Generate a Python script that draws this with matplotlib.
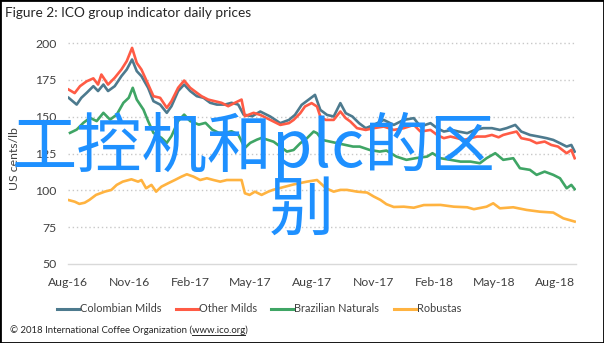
import matplotlib
matplotlib.use("Agg")
import matplotlib.pyplot as plt
import matplotlib.dates as mdates
import pandas as pd
from matplotlib.lines import Line2D
from matplotlib.patches import Rectangle

# ICO group indicator prices, US cents/lb
colombian_dates = [
    "2016-08-02", "2016-08-14", "2016-08-21", "2016-08-29", "2016-09-08", "2016-09-15",
    "2016-09-23", "2016-09-30", "2016-10-10", "2016-10-20", "2016-10-28", "2016-11-05",
    "2016-11-12", "2016-11-19", "2016-11-29", "2016-12-07", "2016-12-17", "2016-12-27",
    "2017-01-03", "2017-01-13", "2017-01-22", "2017-01-31", "2017-02-10", "2017-02-20",
    "2017-03-02", "2017-03-12", "2017-03-24", "2017-04-03", "2017-04-13", "2017-04-21",
    "2017-05-04", "2017-05-16", "2017-05-31", "2017-06-15", "2017-06-28", "2017-07-07",
    "2017-07-17", "2017-07-27", "2017-08-06", "2017-08-14", "2017-08-24", "2017-09-03",
    "2017-09-13", "2017-09-21", "2017-10-01", "2017-10-11", "2017-10-21", "2017-11-02",
    "2017-11-17", "2017-12-02", "2017-12-17", "2018-01-01", "2018-01-11", "2018-01-26",
    "2018-02-05", "2018-02-15", "2018-02-27", "2018-03-09", "2018-03-22", "2018-04-03",
    "2018-04-15", "2018-04-28", "2018-05-10", "2018-05-20", "2018-06-02", "2018-06-11",
    "2018-06-24", "2018-07-07", "2018-07-19", "2018-07-29", "2018-08-08", "2018-08-18",
    "2018-08-25", "2018-08-30",
]
colombian_prices = [
    162.8, 158.2, 162.8, 166.2, 170.7, 167.4,
    171.8, 167.4, 170.7, 177.5, 182.0, 188.8,
    180.9, 177.5, 169.6, 160.5, 158.2, 152.6,
    157.1, 167.4, 171.8, 167.4, 163.9, 162.8,
    159.4, 158.2, 158.2, 159.4, 158.2, 151.4,
    150.3, 153.5, 150.1, 145.6, 147.8, 151.2,
    158.0, 161.4, 164.8, 154.6, 151.2, 150.1,
    159.2, 152.4, 150.1, 145.6, 142.2, 144.4,
    147.8, 144.4, 147.8, 149.0, 143.3, 145.6,
    142.2, 139.9, 141.0, 139.9, 138.8, 141.0,
    142.2, 142.2, 141.0, 142.2, 144.4, 139.9,
    137.6, 136.5, 135.4, 134.2, 132.0, 129.7,
    130.8, 126.3,
]

other_dates = [
    "2016-08-02", "2016-08-11", "2016-08-19", "2016-08-29", "2016-09-08", "2016-09-15",
    "2016-09-20", "2016-09-30", "2016-10-10", "2016-10-20", "2016-10-28", "2016-11-05",
    "2016-11-12", "2016-11-19", "2016-11-27", "2016-12-07", "2016-12-17", "2016-12-27",
    "2017-01-03", "2017-01-13", "2017-01-22", "2017-01-31", "2017-02-10", "2017-02-17",
    "2017-02-27", "2017-03-09", "2017-03-19", "2017-03-29", "2017-04-08", "2017-04-18",
    "2017-04-23", "2017-05-06", "2017-05-16", "2017-05-31", "2017-06-15", "2017-06-28",
    "2017-07-05", "2017-07-15", "2017-07-22", "2017-08-01", "2017-08-09", "2017-08-14",
    "2017-08-22", "2017-09-03", "2017-09-13", "2017-09-21", "2017-09-28", "2017-10-08",
    "2017-10-21", "2017-11-02", "2017-11-17", "2017-12-02", "2017-12-17", "2018-01-01",
    "2018-01-11", "2018-01-26", "2018-02-05", "2018-02-15", "2018-02-25", "2018-03-07",
    "2018-03-17", "2018-03-27", "2018-04-06", "2018-04-18", "2018-04-28", "2018-05-08",
    "2018-05-15", "2018-05-25", "2018-06-04", "2018-06-11", "2018-06-24", "2018-07-04",
    "2018-07-16", "2018-07-26", "2018-08-05", "2018-08-18", "2018-08-25", "2018-08-30",
]
other_prices = [
    168.4, 166.0, 170.7, 174.0, 176.0, 171.8,
    178.6, 171.8, 176.4, 182.0, 187.7, 196.7,
    186.5, 182.0, 174.0, 163.9, 162.8, 156.0,
    160.5, 169.6, 174.5, 169.6, 166.2, 163.9,
    161.6, 160.5, 159.4, 157.1, 159.4, 161.6,
    150.3, 152.6, 151.2, 147.8, 144.4, 145.6,
    147.8, 152.4, 156.9, 159.2, 156.9, 150.1,
    147.8, 147.8, 153.5, 149.0, 146.7, 142.2,
    141.0, 142.2, 143.3, 141.0, 142.2, 144.4,
    139.9, 141.0, 137.6, 135.4, 136.5, 135.4,
    134.2, 135.4, 136.5, 136.5, 137.6, 136.0,
    137.6, 138.8, 139.9, 135.4, 134.2, 132.0,
    133.1, 130.8, 129.7, 125.2, 127.4, 121.8,
]

brazil_dates = [
    "2016-08-04", "2016-08-14", "2016-08-24", "2016-09-03", "2016-09-13", "2016-09-23",
    "2016-10-03", "2016-10-13", "2016-10-23", "2016-10-31", "2016-11-06", "2016-11-12",
    "2016-11-22", "2016-11-29", "2016-12-07", "2016-12-19", "2016-12-27", "2017-01-03",
    "2017-01-13", "2017-01-22", "2017-01-31", "2017-02-13", "2017-02-23", "2017-03-05",
    "2017-03-15", "2017-03-24", "2017-04-03", "2017-04-13", "2017-04-23", "2017-05-01",
    "2017-05-11", "2017-05-18", "2017-06-05", "2017-06-25", "2017-07-05", "2017-07-15",
    "2017-07-25", "2017-08-04", "2017-08-09", "2017-08-17", "2017-10-02", "2017-10-12",
    "2017-10-27", "2017-11-11", "2017-11-21", "2017-12-06", "2017-12-21", "2018-01-06",
    "2018-01-21", "2018-01-29", "2018-02-10", "2018-02-25", "2018-03-12", "2018-03-27",
    "2018-04-10", "2018-04-20", "2018-05-03", "2018-05-15", "2018-05-30", "2018-06-09",
    "2018-06-24", "2018-07-04", "2018-07-16", "2018-07-29", "2018-08-08", "2018-08-18",
    "2018-08-25", "2018-08-30",
]
brazil_prices = [
    139.0, 141.2, 145.8, 149.2, 147.0, 152.6,
    148.0, 151.4, 159.4, 162.8, 169.6, 161.6,
    154.8, 147.0, 139.0, 135.6, 132.2, 136.8,
    147.0, 151.4, 147.0, 144.6, 145.8, 141.2,
    139.0, 139.0, 140.1, 137.8, 128.8, 132.2,
    134.4, 135.6, 133.0, 126.3, 127.4, 132.0,
    135.4, 139.9, 138.8, 134.2, 129.7, 129.7,
    127.4, 126.3, 127.0, 122.9, 120.7, 122.0,
    122.9, 125.2, 121.8, 120.7, 119.5, 119.5,
    118.4, 121.8, 125.2, 120.7, 121.8, 115.0,
    113.9, 110.5, 112.7, 110.5, 108.2, 101.4,
    103.7, 100.8,
]

robusta_dates = [
    "2016-08-01", "2016-08-11", "2016-08-18", "2016-08-26", "2016-09-02", "2016-09-12",
    "2016-09-25", "2016-10-05", "2016-10-13", "2016-10-22", "2016-11-04", "2016-11-14",
    "2016-11-19", "2016-11-26", "2016-12-04", "2016-12-11", "2016-12-19", "2016-12-29",
    "2017-01-08", "2017-01-18", "2017-01-26", "2017-02-05", "2017-02-15", "2017-02-25",
    "2017-03-07", "2017-03-17", "2017-03-27", "2017-04-06", "2017-04-18", "2017-04-23",
    "2017-04-30", "2017-05-08", "2017-05-18", "2017-05-28", "2017-06-04", "2017-07-05",
    "2017-07-25", "2017-08-09", "2017-08-17", "2017-08-22", "2017-09-03", "2017-09-13",
    "2017-09-23", "2017-10-08", "2017-10-23", "2017-11-02", "2017-11-12", "2017-11-21",
    "2017-12-02", "2017-12-17", "2018-01-01", "2018-01-16", "2018-02-10", "2018-03-02",
    "2018-03-22", "2018-04-01", "2018-04-20", "2018-04-30", "2018-05-10", "2018-05-30",
    "2018-06-19", "2018-07-09", "2018-07-29", "2018-08-13", "2018-08-30",
]
robusta_prices = [
    93.5, 92.3, 90.8, 91.6, 93.5, 96.9,
    99.1, 100.3, 103.7, 105.9, 107.5, 105.9,
    107.0, 101.4, 103.7, 99.1, 102.5, 104.8,
    107.0, 109.3, 110.9, 109.3, 107.0, 108.2,
    107.0, 105.9, 107.0, 107.0, 107.0, 98.0,
    96.9, 99.1, 96.9, 99.1, 100.3, 104.0,
    105.9, 107.0, 103.7, 101.5, 99.1, 100.3,
    100.3, 99.1, 98.5, 95.8, 93.5, 90.6,
    88.7, 88.9, 88.2, 90.0, 90.1, 88.9,
    88.5, 87.2, 88.9, 91.2, 87.8, 88.5,
    86.7, 85.5, 84.9, 81.0, 78.8,
]

series_names = ["Colombian Milds", "Other Milds", "Brazilian Naturals", "Robustas"]
series_colors = ["#4d7a8e", "#ff5b45", "#3fa565", "#ffb340"]
y_ticks = [50, 75, 100, 125, 150, 175, 200]

plt.rcParams["font.family"] = ["Lato", "DejaVu Sans"]
text_color = "#404040"

fig = plt.figure(figsize=(6.04, 3.43), dpi=100)
ax = fig.add_axes([68 / 604, 1 - 264 / 343, 508 / 604, 221 / 343])

series = [
    (colombian_dates, colombian_prices),
    (other_dates, other_prices),
    (brazil_dates, brazil_prices),
    (robusta_dates, robusta_prices),
]
for (dates, prices), name, color in zip(series, series_names, series_colors):
    ax.plot(pd.to_datetime(dates), prices, color=color, lw=1.9, label=name,
            solid_joinstyle="round")

ax.set_xlim(pd.Timestamp("2016-08-01"), pd.Timestamp("2018-09-01"))
ax.set_ylim(50, 200)
ax.set_yticks(y_ticks)
ax.set_xticks(pd.date_range("2016-08-01", "2018-08-01", freq="3MS"))
ax.xaxis.set_major_formatter(mdates.DateFormatter("%b-%y"))
ax.tick_params(length=0, labelsize=8.8, colors=text_color)
ax.tick_params(axis="y", pad=8)
ax.tick_params(axis="x", pad=9)

# dotted gridlines, the 50 level is the solid baseline
for y in y_ticks[1:]:
    ax.axhline(y, color="#c8c8c8", lw=1, ls=(0, (1, 2)), zorder=0, clip_on=False)
for side in ["top", "right", "left"]:
    ax.spines[side].set_visible(False)
ax.spines["bottom"].set_color("#d9d9d9")
ax.spines["bottom"].set_linewidth(1)

ax.set_ylabel("US cents/lb", fontsize=8.8, color=text_color)
ax.yaxis.set_label_coords(-0.094, 0.475)

fig.text(5 / 604, 1 - 13 / 343, "Figure 2: ICO group indicator daily prices",
         fontsize=9.8, color="#262626", va="center", ha="left")

handles = [Line2D([], [], color=c, lw=2.2) for c in series_colors]
fig.legend(handles, series_names, loc="center", bbox_to_anchor=(259 / 604, 1 - 309 / 343),
           ncol=4, frameon=False, fontsize=7.9, handlelength=2.0, handletextpad=0.1,
           columnspacing=1.3, labelcolor=text_color)

# footer with underlined url
foot_x, foot_y = 10 / 604, 1 - 333 / 343
prefix = "\u00a9 2018 International Coffee Organization ("
url = "www.ico.org"
foot_size = 6.9
fig.text(foot_x, foot_y, prefix + url + ")", fontsize=foot_size, color="#262626",
         va="baseline", ha="left")
renderer = fig.canvas.get_renderer()
t_pre = fig.text(foot_x, foot_y, prefix, fontsize=foot_size, alpha=0)
t_url = fig.text(foot_x, foot_y, url, fontsize=foot_size, alpha=0)
w_pre = t_pre.get_window_extent(renderer).width / fig.bbox.width
w_url = t_url.get_window_extent(renderer).width / fig.bbox.width
fig.add_artist(Line2D([foot_x + w_pre, foot_x + w_pre + w_url],
                      [foot_y - 2 / 343, foot_y - 2 / 343],
                      transform=fig.transFigure, color="#262626", lw=0.7))

# large overlay caption
cap_font = ["Noto Sans CJK SC", "DejaVu Sans"]
fig.text(12 / 604, 1 - 147 / 343, "工控机和plc的区", family=cap_font, fontsize=47,
         color="#1e90ff", va="center", ha="left")
fig.text(301 / 604, 1 - 211 / 343, "别", family=cap_font, fontsize=47,
         color="#1e90ff", va="center", ha="center")

fig.patches.append(Rectangle((0, 0), 1, 1, transform=fig.transFigure, fill=False,
                             ec="black", lw=2))

fig.savefig("out.png", dpi=100)
